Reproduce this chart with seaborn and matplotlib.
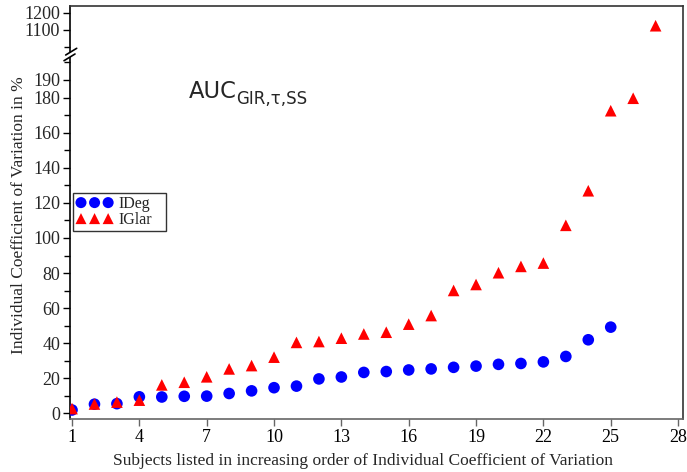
import numpy as np
import pandas as pd
import matplotlib
matplotlib.use("Agg")
import matplotlib.pyplot as plt
import seaborn as sns
from matplotlib.lines import Line2D
from matplotlib.patches import Polygon

# ---- data ----
ideg_subjects = list(range(1, 26))
ideg_cv = [2.0, 5.3, 5.6, 9.5, 9.4, 9.8, 9.9, 11.4, 12.9, 14.7, 15.6, 19.7, 20.8,
           23.4, 23.9, 24.8, 25.4, 26.3, 27.0, 28.0, 28.5, 29.4, 32.5, 42.0, 49.2]
iglar_subjects = list(range(1, 28))
iglar_cv = [2.8, 5.4, 6.5, 7.6, 16.3, 17.8, 20.9, 25.4, 27.3, 32.1, 40.5, 41.0, 42.9,
            45.3, 46.3, 50.9, 55.8, 70.1, 73.5, 80.2, 83.8, 85.7, 107.2, 126.9, 172.5,
            179.6, 1123.0]
series_names = ["IDeg", "IGlar"]
x_ticks = [1, 4, 7, 10, 13, 16, 19, 22, 25, 28]
y_major = [0, 20, 40, 60, 80, 100, 120, 140, 160, 180, 190, 1100, 1200]
y_minor = [10, 30, 50, 70, 90, 110, 130, 150, 170, 200, 1000]

df = pd.concat([
    pd.DataFrame({"subject": ideg_subjects, "cv": ideg_cv, "drug": series_names[0]}),
    pd.DataFrame({"subject": iglar_subjects, "cv": iglar_cv, "drug": series_names[1]}),
])

sns.set_style("ticks")
plt.rcParams["font.family"] = ["Liberation Serif", "DejaVu Serif"]

W, H = 687, 472
fig = plt.figure(figsize=(W / 100, H / 100), dpi=100)
L, R, B, T = 70, 683, 419, 6
ax = fig.add_axes([L / W, 1 - B / H, (R - L) / W, (B - T) / H])

# broken axis scale (piecewise linear, in pixel units)
K1, GAP, K3 = 1.755, 15.8, 0.17
def fwd(y):
    y = np.asarray(y, dtype=float)
    return np.where(y <= 200, K1 * y,
                    np.where(y < 1000, 200 * K1 + (y - 200) * GAP / 800,
                             200 * K1 + GAP + (y - 1000) * K3))
def inv(t):
    t = np.asarray(t, dtype=float)
    t1 = 200 * K1
    return np.where(t <= t1, t / K1,
                    np.where(t < t1 + GAP, 200 + (t - t1) * 800 / GAP,
                             1000 + (t - t1 - GAP) / K3))
ax.set_yscale("function", functions=(fwd, inv))

pal = {"IDeg": "#0000ff", "IGlar": "#ff0000"}
mk = {"IDeg": "o", "IGlar": "^"}
for name in series_names:
    sub = df[df["drug"] == name]
    sns.scatterplot(data=sub, x="subject", y="cv", color=pal[name], marker=mk[name],
                    s=70, edgecolor="none", linewidth=0, ax=ax, label=name, zorder=3)

# limits
ax.set_ylim(float(inv(-5.5)), 1239)
ax.set_xlim(0.91, 28.22)

ax.set_xticks(x_ticks)
ax.set_xticklabels([str(v) for v in x_ticks])
ax.set_yticks(y_major)
ax.set_yticklabels([str(v) for v in y_major])
ax.set_yticks(y_minor, minor=True)
ax.tick_params(axis="both", which="major", direction="out", length=5, width=1,
               labelsize=13, color="black", pad=2)
ax.tick_params(axis="y", which="minor", direction="out", length=4, width=1, color="black")
ax.tick_params(axis="x", which="major", colors="#666666", labelcolor="black")
ax.tick_params(axis="x", which="minor", bottom=False)

for side in ["top", "right", "left", "bottom"]:
    ax.spines[side].set_visible(True)
    ax.spines[side].set_linewidth(1.2)
ax.spines["left"].set_color("black")
ax.spines["bottom"].set_color("#666666")
ax.spines["top"].set_color("#333333")
ax.spines["right"].set_color("#333333")

ax.set_xlabel("Subjects listed in increasing order of Individual Coefficient of Variation",
              fontsize=12.5)
ax.set_ylabel("Individual Coefficient of Variation in %", fontsize=12.5)
ax.xaxis.set_label_coords((363 - L) / (R - L), -(461 - B) / (B - T), transform=ax.transAxes)
ax.yaxis.set_label_coords(-(70 - 19) / (R - L), (B - 215) / (B - T), transform=ax.transAxes)
ax.xaxis.label.set_va("center")
ax.yaxis.label.set_va("center")

# annotation AUC_{GIR,τ,SS}
t_main = ax.text((189 - L) / (R - L), (B - 98) / (B - T), "AUC",
                 transform=ax.transAxes, fontsize=16.3, family="DejaVu Sans",
                 ha="left", va="baseline")
fig.canvas.draw()
bb = t_main.get_window_extent()
xa = ax.transAxes.inverted().transform((bb.x1, 0))[0]
ax.text(xa - 0.5 / (R - L), (B - 104.5) / (B - T), "GIR,τ,SS",
        transform=ax.transAxes, fontsize=12.0, family="DejaVu Sans",
        ha="left", va="baseline")

# legend box: x 73..166 px, top at 193 px
lx0 = (73 - L) / (R - L)
lw = (166 - 73) / (R - L)
ly_top = (B - 193) / (B - T)
lh = 39 / (B - T)
leg = ax.legend(loc="upper left", bbox_to_anchor=(lx0, ly_top - lh, lw, lh), mode="expand",
                borderaxespad=0, scatterpoints=3, scatteryoffsets=[0.5], fontsize=11.5,
                frameon=True, fancybox=False,
                handlelength=2.3, handletextpad=0.35, labelspacing=0.0, borderpad=0.2,
                markerscale=0.95)
leg.get_frame().set_edgecolor("black")
leg.get_frame().set_linewidth(1.0)

# axis break marks on the left spine
def fx(px):
    return px / W
def fy(py):
    return 1 - py / H
poly = Polygon([(fx(65.7), fy(55)), (fx(76.7), fy(48.3)), (fx(75), fy(54)), (fx(64), fy(60.7))],
               closed=True, transform=fig.transFigure, facecolor="white", edgecolor="none",
               zorder=5)
fig.add_artist(poly)
for (x0, y0, x1, y1) in [(65.7, 55, 76.7, 48.3), (64, 60.7, 75, 54)]:
    fig.add_artist(Line2D([fx(x0), fx(x1)], [fy(y0), fy(y1)], transform=fig.transFigure,
                          color="black", linewidth=1.2, zorder=6))

fig.savefig("out.png", dpi=100)
